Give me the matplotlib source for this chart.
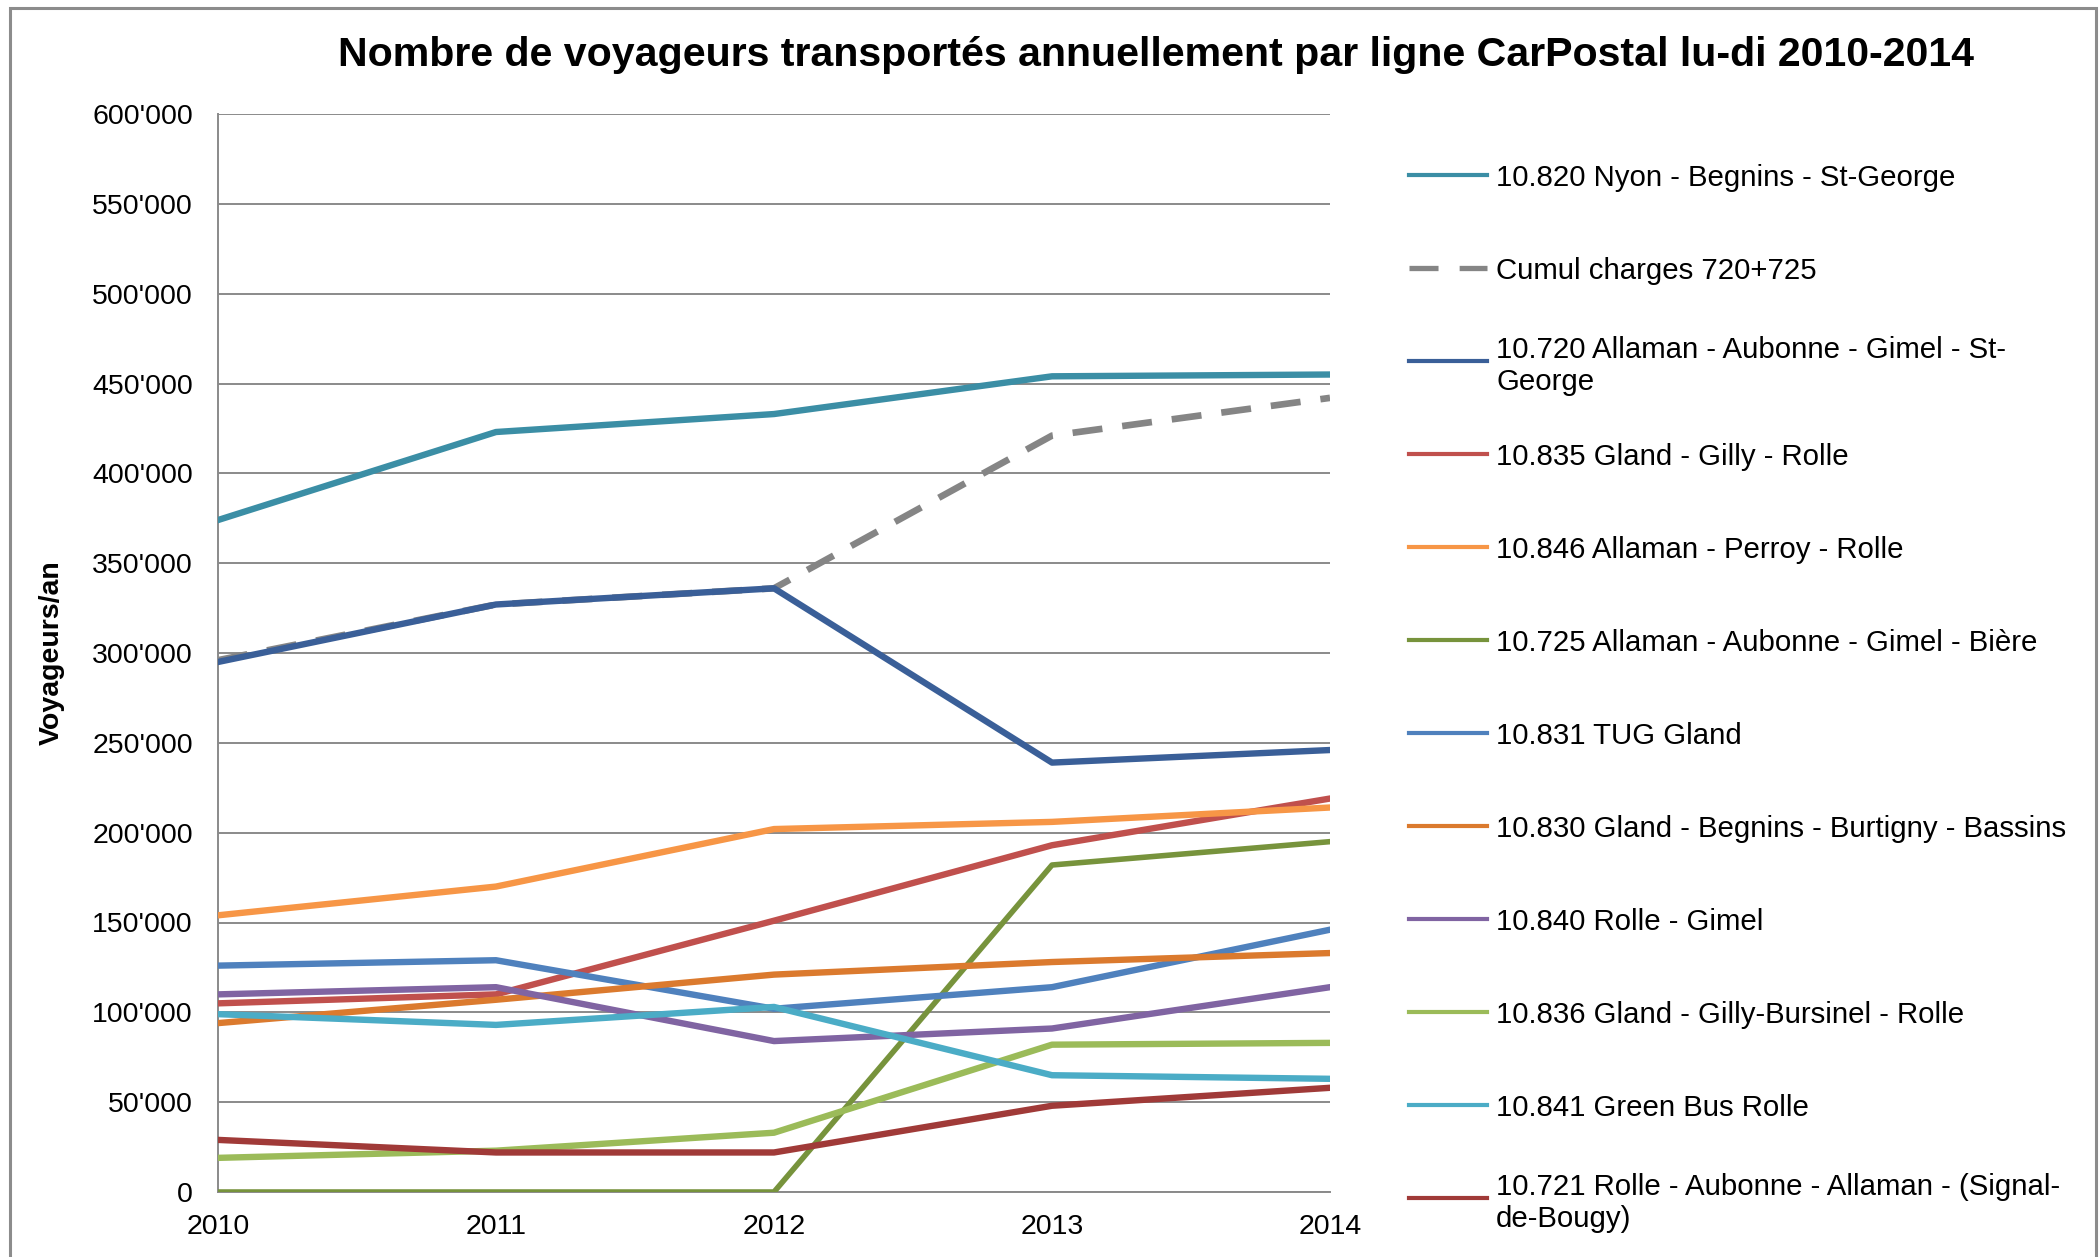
import matplotlib
matplotlib.use("Agg")
import matplotlib.pyplot as plt
from matplotlib.lines import Line2D
from matplotlib.patches import Rectangle
from matplotlib.ticker import FuncFormatter, MultipleLocator

plt.rcParams["font.family"] = ["Liberation Sans", "DejaVu Sans"]

years = [2010, 2011, 2012, 2013, 2014]

l820 = [374000, 423000, 433000, 454000, 455000]
cumul = [296000, 327000, 336000, 421000, 442000]
l720 = [295000, 327000, 336000, 239000, 246000]
l835 = [105000, 110000, 151000, 193000, 219000]
l846 = [154000, 170000, 202000, 206000, 214000]
l725 = [0, 0, 0, 182000, 195000]
l831 = [126000, 129000, 102000, 114000, 146000]
l830 = [94000, 107000, 121000, 128000, 133000]
l840 = [110000, 114000, 84000, 91000, 114000]
l836 = [19000, 23000, 33000, 82000, 83000]
l841 = [99000, 93000, 103000, 65000, 63000]
l721 = [29000, 22000, 22000, 48000, 58000]

labels = [
    "10.820 Nyon - Begnins - St-George",
    "Cumul charges 720+725",
    "10.720 Allaman - Aubonne - Gimel - St-\nGeorge",
    "10.835 Gland - Gilly - Rolle",
    "10.846 Allaman - Perroy - Rolle",
    "10.725 Allaman - Aubonne - Gimel - Bière",
    "10.831 TUG Gland",
    "10.830 Gland - Begnins - Burtigny - Bassins",
    "10.840 Rolle - Gimel",
    "10.836 Gland - Gilly-Bursinel - Rolle",
    "10.841 Green Bus Rolle",
    "10.721 Rolle - Aubonne - Allaman - (Signal-\nde-Bougy)",
]
series = [l820, cumul, l720, l835, l846, l725, l831, l830, l840, l836, l841, l721]
colors = ["#3B8EA5", "#858585", "#3A5F98", "#C0504D", "#F79646", "#77933C",
          "#4F81BD", "#DB7A2E", "#8064A2", "#9BBB59", "#4BACC6", "#A03A38"]

W, H = 2100, 1257
fig = plt.figure(figsize=(W / 100, H / 100), dpi=100)
fig.patch.set_facecolor("white")

# frame of the original chart area (bottom cut off)
fig.add_artist(Rectangle((10 / W, -0.05), (2096 - 10) / W, 1.05 - 8 / H,
                         transform=fig.transFigure, fill=False,
                         edgecolor="#8c8c8c", linewidth=2.2))

ax = fig.add_axes([218 / W, 1 - 1192 / H, (1330 - 218) / W, (1192 - 114) / H])

# draw order: cumul below 720 so the solid line sits on top
order = [1, 0, 2, 3, 4, 5, 6, 7, 8, 9, 10, 11]
for i in order:
    if i == 1:
        ax.plot(years, series[i], color=colors[i], lw=4.8, dashes=(4.5, 3),
                solid_capstyle="butt", zorder=2)
    elif i == 5:
        ax.plot(years, series[i], color=colors[i], lw=4.0, zorder=3)
    else:
        ax.plot(years, series[i], color=colors[i], lw=4.6, zorder=3)

ax.set_xlim(2010, 2014)
ax.set_ylim(0, 600000)
ax.yaxis.set_major_locator(MultipleLocator(50000))
ax.set_xticks(years)
ax.yaxis.set_major_formatter(FuncFormatter(lambda v, p: f"{int(v):,}".replace(",", "'")))
ax.grid(axis="y", color="#8a8a8a", lw=1.4)
ax.set_axisbelow(True)
for s in ["top", "right"]:
    ax.spines[s].set_visible(False)
for s in ["left", "bottom"]:
    ax.spines[s].set_color("#8a8a8a")
    ax.spines[s].set_linewidth(1.4)
ax.tick_params(axis="both", length=0, labelsize=20.5)
ax.tick_params(axis="y", pad=18)
ax.tick_params(axis="x", pad=16)
ax.set_ylabel("Voyageurs/an", fontsize=20.5, fontweight="bold", labelpad=20)

fig.text(1156 / W, 1 - 55 / H,
         "Nombre de voyageurs transportés annuellement par ligne CarPostal lu-di 2010-2014",
         ha="center", va="center", fontsize=29.6, fontweight="bold")

# legend, one row every 93 px
for k, (lab, col) in enumerate(zip(labels, colors)):
    yy = 1 - (175 + k * 93) / H
    if k == 1:
        h = Line2D([1409 / W, 1487 / W], [yy, yy], transform=fig.transFigure,
                   color=col, lw=3.8, dashes=(5.5, 4), solid_capstyle="butt")
    else:
        h = Line2D([1409 / W, 1487 / W], [yy, yy], transform=fig.transFigure,
                   color=col, lw=3.0)
    fig.add_artist(h)
    fig.text(1496 / W, yy, lab, ha="left", va="center_baseline",
             fontsize=21.2, linespacing=1.2)

fig.savefig("out.png", dpi=100)
